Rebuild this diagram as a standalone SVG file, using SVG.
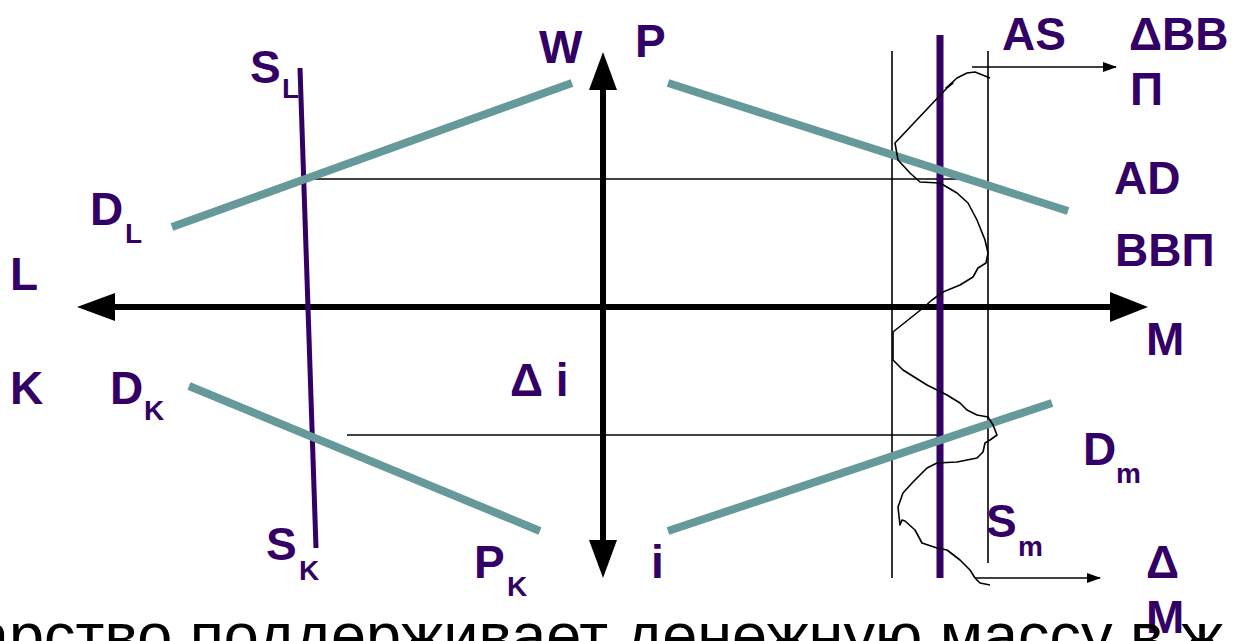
<svg xmlns="http://www.w3.org/2000/svg" width="1235" height="641" viewBox="0 0 1235 641">
<defs>
<style>
.lbl{font-family:"Liberation Sans",Arial,sans-serif;font-weight:bold;font-size:46px;fill:#330066}
.sub{font-size:28px}
.axis{stroke:#000;stroke-width:6;fill:none}
.thin{stroke:#000;stroke-width:1.6;fill:none}
.teal{stroke:#669999;stroke-width:8;fill:none}
.pur{stroke:#330066;stroke-width:6;fill:none}
.head{fill:#000}
</style>
<marker id="ah" markerWidth="14" markerHeight="10" refX="13" refY="5" orient="auto" markerUnits="userSpaceOnUse">
<path d="M0,0 L14,5 L0,10 Z" fill="#000"/>
</marker>
</defs>
<rect width="1235" height="641" fill="#fff"/>
<g id="connectors">
<line class="axis" x1="112" y1="307" x2="1112" y2="307"/>
<polygon class="head" points="77,307 115,293 115,321"/>
<polygon class="head" points="1148,307 1110,292 1110,322"/>
<line class="axis" x1="603" y1="88" x2="603" y2="542"/>
<polygon class="head" points="603,52 589,90 617,90"/>
<polygon class="head" points="603,578 589,540 617,540"/>
<line class="thin" x1="300" y1="179" x2="972" y2="179"/>
<line class="thin" x1="347" y1="435" x2="940" y2="435"/>
<line class="thin" x1="892" y1="51" x2="892" y2="578"/>
<line class="thin" x1="988" y1="51" x2="988" y2="563"/>
<line class="pur" x1="940" y1="35" x2="940" y2="578" style="stroke-width:7"/>
<line class="pur" x1="300" y1="68" x2="316" y2="548" style="stroke-width:5"/>
<line class="teal" x1="172" y1="227" x2="572" y2="83"/>
<line class="teal" x1="668" y1="83" x2="1068" y2="211"/>
<line class="teal" x1="189" y1="386" x2="540" y2="531"/>
<line class="teal" x1="668" y1="531" x2="1052" y2="403"/>
<line class="thin" x1="972" y1="67" x2="1116" y2="67" marker-end="url(#ah)"/>
<line class="thin" x1="975" y1="578" x2="1100" y2="578" marker-end="url(#ah)"/>
<polyline class="thin" stroke-linejoin="round" points="990,78 975,72 967,73 957,78 946,88 953,83 946,89 895,143 898,160 910,173 920,182 940,183 957,193 968,203 977,220 985,240 988,253 986,263 978,268 973,277 960,285 943,292 932,300 923,308 893,332 893,360 903,370 927,385 947,395 960,403 967,410 977,415 988,417 993,425 997,435 990,440 985,443 983,452 977,458 957,462 937,463 927,468 913,482 903,493 898,507 900,525 902,520 905,521 915,530 922,543 937,548 947,550 960,560 970,570 975,578 980,583 990,585"/>
</g>
<g id="node-SL"><text class="lbl" x="250" y="83">S</text><text class="lbl sub" x="282" y="98">L</text></g>
<g id="node-W"><text class="lbl" x="539" y="63">W</text></g>
<g id="node-P"><text class="lbl" x="635" y="57">P</text></g>
<g id="node-AS"><text class="lbl" x="1002" y="50">AS</text></g>
<g id="node-dVVP"><text class="lbl" x="1129" y="50">ΔВВ</text><text class="lbl" x="1130" y="105">П</text></g>
<g id="node-AD"><text class="lbl" x="1114" y="194">AD</text></g>
<g id="node-VVP"><text class="lbl" x="1115" y="266">ВВП</text></g>
<g id="node-DL"><text class="lbl" x="90" y="225">D</text><text class="lbl sub" x="125" y="243">L</text></g>
<g id="node-L"><text class="lbl" x="10" y="290">L</text></g>
<g id="node-M"><text class="lbl" x="1146" y="355">M</text></g>
<g id="node-K"><text class="lbl" x="10" y="404">K</text></g>
<g id="node-DK"><text class="lbl" x="110" y="404">D</text><text class="lbl sub" x="144" y="420">K</text></g>
<g id="node-di"><text class="lbl" x="510" y="396">Δ i</text></g>
<g id="node-Dm"><text class="lbl" x="1083" y="465">D</text><text class="lbl sub" x="1116" y="483">m</text></g>
<g id="node-Sm"><text class="lbl" x="986" y="537">S</text><text class="lbl sub" x="1018" y="556">m</text></g>
<g id="node-SK"><text class="lbl" x="266" y="560">S</text><text class="lbl sub" x="299" y="580">K</text></g>
<g id="node-PK"><text class="lbl" x="474" y="578">P</text><text class="lbl sub" x="507" y="596">K</text></g>
<g id="node-i"><text class="lbl" x="651" y="578">i</text></g>
<g id="node-dM"><text class="lbl" x="1146" y="578">Δ</text><text class="lbl" x="1146" y="633">M</text></g>
<g id="caption"><text x="-26" y="657" style="font-family:'Liberation Sans',Arial,sans-serif;font-size:63px;fill:#000">арство поддерживает денежную массу в ж</text></g>
</svg>
